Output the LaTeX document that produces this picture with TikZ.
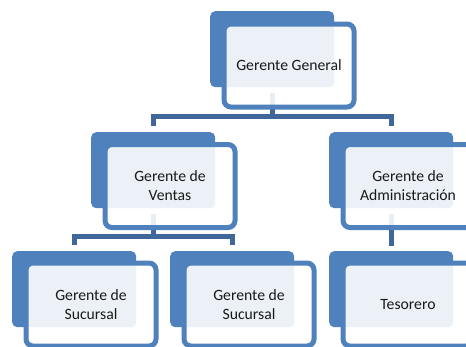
\documentclass[tikz,border=0pt]{standalone}
\usepackage{fontspec}
\setmainfont{Carlito}
\definecolor{acc}{HTML}{4F81BD}
\definecolor{conn}{HTML}{3F679A}
\tikzset{
  backbox/.style={anchor=north west, fill=acc, rounded corners=5pt, inner sep=0pt,
    minimum width=124pt, minimum height=76pt},
  frontbox/.style={anchor=north west, draw=acc, line width=5pt, fill=white, fill opacity=0.89,
    text opacity=1, rounded corners=7pt, inner sep=0pt, minimum width=130pt, minimum height=83pt,
    align=center, font=\fontsize{15.7pt}{19pt}\selectfont, text=black!90},
  connline/.style={draw=conn, line width=5pt},
}
\begin{document}
\begin{tikzpicture}[x=1pt, y=-1pt]
\useasboundingbox (0,0) rectangle (466,346);
% back rectangles
\node[backbox] (gb) at (210,11) {};
\node[backbox] (vb) at (91,132) {};
\node[backbox] (ab) at (329,132) {};
\node[backbox] (s1b) at (12,251) {};
\node[backbox] (s2b) at (170,251) {};
\node[backbox] (tb) at (329,251) {};
% bar levels
\coordinate (bar1) at (0,116);
\coordinate (bar2) at (0,236);
% connectors
\draw[connline] ([yshift=-6pt]gb.south) -- (gb.south |- bar1);
\draw[connline] ([xshift=-2.5pt]vb.north |- bar1) -- ([xshift=2.5pt]ab.north |- bar1);
\draw[connline] (vb.north |- bar1) -- ([yshift=6pt]vb.north);
\draw[connline] (ab.north |- bar1) -- ([yshift=6pt]ab.north);
\draw[connline] ([yshift=-6pt]vb.south) -- (vb.south |- bar2);
\draw[connline] ([xshift=-2.5pt]s1b.north |- bar2) -- ([xshift=2.5pt]s2b.north |- bar2);
\draw[connline] (s1b.north |- bar2) -- ([yshift=6pt]s1b.north);
\draw[connline] (s2b.north |- bar2) -- ([yshift=6pt]s2b.north);
\draw[connline] ([yshift=-6pt]ab.south) -- ([yshift=5pt]tb.north);
% front boxes
\node[frontbox] (g) at (221.5,21.5) {Gerente General};
\node[frontbox] (v) at (102.5,142) {Gerente de\\Ventas};
\node[frontbox] (a) at (340.5,142) {Gerente de\\Administración};
\node[frontbox] (s1) at (23.5,260.5) {Gerente de\\Sucursal};
\node[frontbox] (s2) at (181.5,260.5) {Gerente de\\Sucursal};
\node[frontbox] (t) at (340.5,260.5) {Tesorero};
\end{tikzpicture}
\end{document}
